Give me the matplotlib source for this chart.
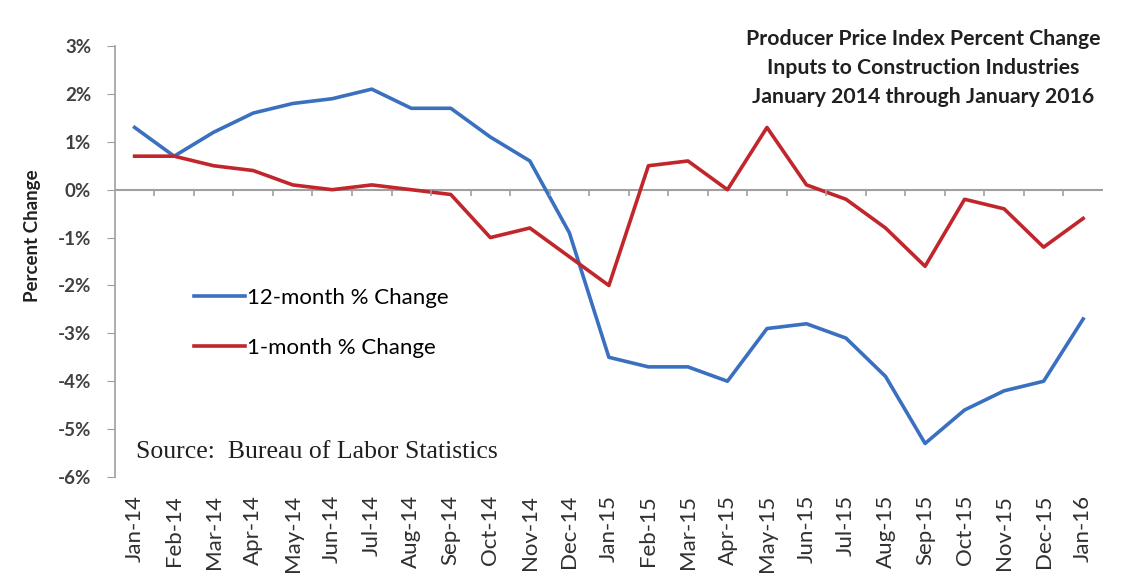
import matplotlib.pyplot as plt
import numpy as np

months = ['Jan-14', 'Feb-14', 'Mar-14', 'Apr-14', 'May-14', 'Jun-14', 'Jul-14',
          'Aug-14', 'Sep-14', 'Oct-14', 'Nov-14', 'Dec-14', 'Jan-15', 'Feb-15',
          'Mar-15', 'Apr-15', 'May-15', 'Jun-15', 'Jul-15', 'Aug-15', 'Sep-15',
          'Oct-15', 'Nov-15', 'Dec-15', 'Jan-16']
chg_12m = [1.3, 0.7, 1.2, 1.6, 1.8, 1.9, 2.1, 1.7, 1.7, 1.1, 0.6, -0.9, -3.5,
           -3.7, -3.7, -4.0, -2.9, -2.8, -3.1, -3.9, -5.3, -4.6, -4.2, -4.0, -2.7]
chg_1m = [0.7, 0.7, 0.5, 0.4, 0.1, 0.0, 0.1, 0.0, -0.1, -1.0, -0.8, -1.4, -2.0,
          0.5, 0.6, 0.0, 1.3, 0.1, -0.2, -0.8, -1.6, -0.2, -0.4, -1.2, -0.6]
yticks = [3, 2, 1, 0, -1, -2, -3, -4, -5, -6]

x = np.arange(len(months))

fig = plt.figure(figsize=(11.26, 5.82), dpi=100)
ax = fig.add_axes([0.102, 0.1804, 0.8775, 0.7405])

ax.plot(x, chg_12m, color='#3a70bf', lw=2.6, label='12-month % Change')
ax.plot(x, chg_1m, color='#c0262c', lw=2.6, label='1-month % Change')

# zero line with category ticks
ax.axhline(0, color='#a0a0a0', lw=1.5, zorder=1)
ax.vlines(x[:-1] + 0.5, -0.13, 0, color='#a0a0a0', lw=1.2)

ax.set_xlim(-0.5, 24.5)
ax.set_ylim(-6, 3)
ax.set_yticks(yticks)
ax.set_yticklabels(['%d%%' % v for v in yticks], fontsize=13.5, fontweight='bold',
                   color='#404040', family='Lato')
ax.tick_params(axis='y', direction='out', length=6, color='#a0a0a0', pad=11)
ax.set_xticks(x)
ax.set_xticklabels(months, rotation=90, fontsize=16, color='#303030', family='Lato')
ax.tick_params(axis='x', length=0, pad=13)

for s in ['top', 'right', 'bottom']:
    ax.spines[s].set_visible(False)
ax.spines['left'].set_color('#a0a0a0')
ax.spines['left'].set_linewidth(1.2)

ax.set_ylabel('Percent Change', fontsize=13.5, fontweight='bold', family='Lato',
              color='#202020')
ax.yaxis.set_label_coords(-0.075, 0.56)

ax.legend(loc='center left', bbox_to_anchor=(0.06, 0.358), frameon=False,
          prop={'family': 'Lato', 'size': 16}, handlelength=2.3,
          handletextpad=0.1, labelspacing=1.36)

ax.text(0.021, 0.058, 'Source:  Bureau of Labor Statistics', transform=ax.transAxes,
        fontsize=18.5, family='Liberation Serif', color='#202020', va='center')

fig.text(0.82, 0.883, 'Producer Price Index Percent Change\n'
         'Inputs to Construction Industries\nJanuary 2014 through January 2016',
         ha='center', va='center', fontsize=15.3, fontweight='bold', family='Lato',
         color='#202020', linespacing=1.55)

fig.savefig('out.png', dpi=100)
